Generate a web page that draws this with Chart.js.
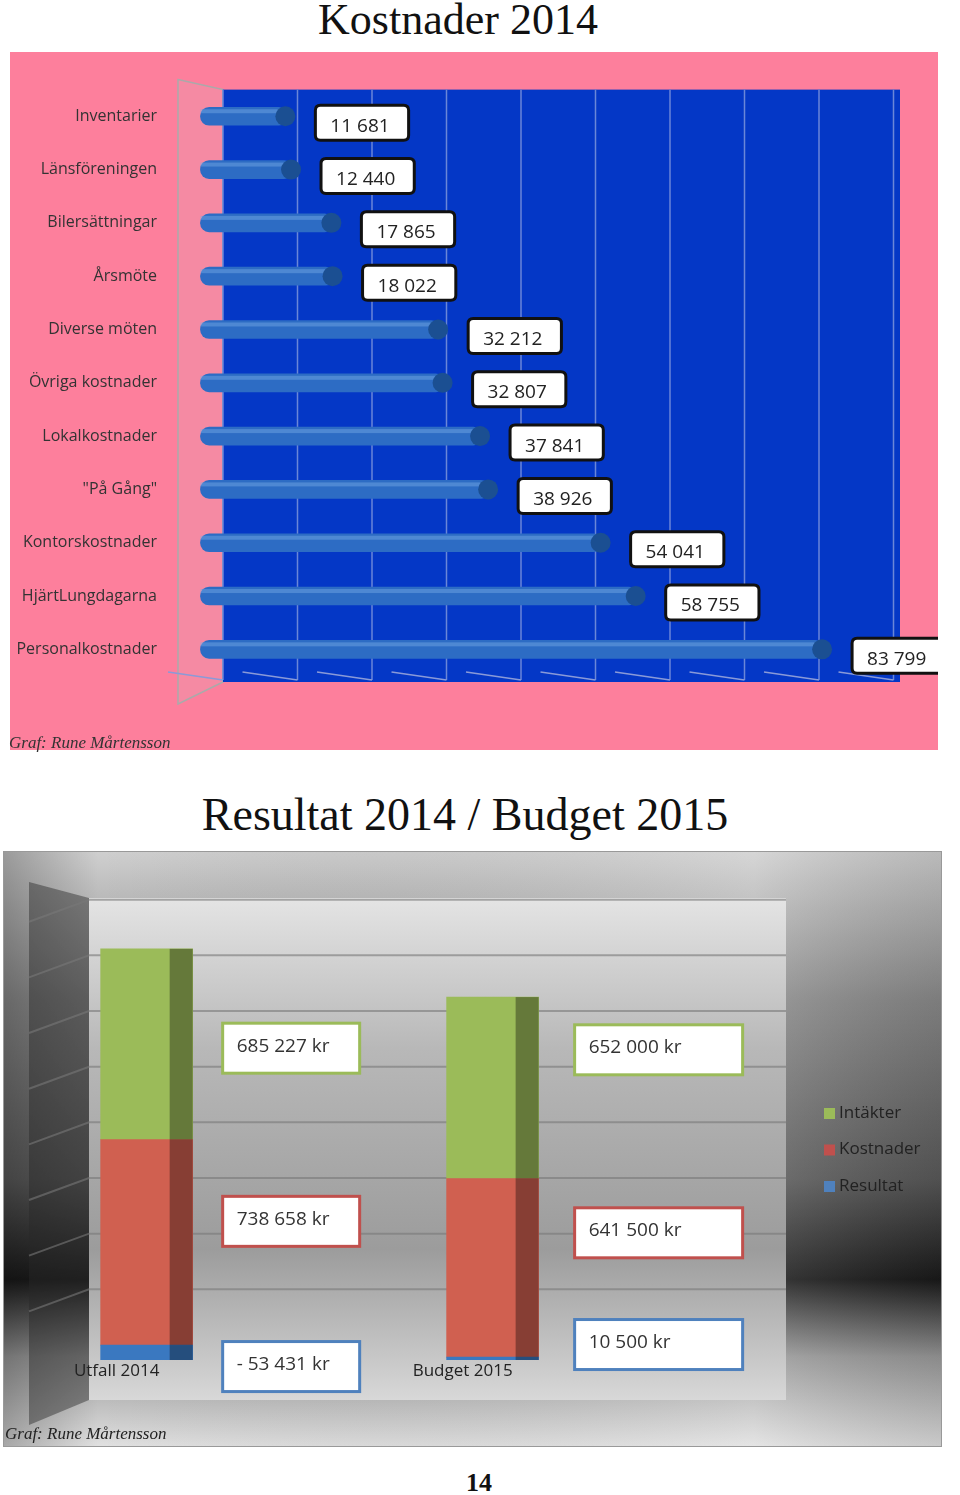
<!DOCTYPE html>
<html><head><meta charset="utf-8">
<script src="https://cdn.jsdelivr.net/npm/chart.js@4"></script>
<style>
body{margin:0;width:960px;height:1495px;background:#fff;position:relative;overflow:hidden}
.t{position:absolute;font-family:"Liberation Serif",serif;color:#111;white-space:nowrap}
canvas{position:absolute}
</style></head><body>
<div class="t" style="left:0;width:916px;text-align:center;top:-6px;font-size:44px">Kostnader 2014</div>
<div id="w1" style="position:absolute;left:10px;top:52px;width:928px;height:698px"><canvas id="c1"></canvas></div>
<div class="t" style="left:9px;top:733px;font-size:17px;font-style:italic;color:#333">Graf: Rune Mårtensson</div>
<div class="t" style="left:0;width:930px;text-align:center;top:788px;font-size:46px">Resultat 2014 / Budget 2015</div>
<div id="w2" style="position:absolute;left:3px;top:851px;width:939px;height:596px;border:1px solid #999;box-sizing:border-box"><canvas id="c2"></canvas></div>
<div class="t" style="left:5px;top:1424px;font-size:17px;font-style:italic;color:#222">Graf: Rune Mårtensson</div>
<div class="t" style="left:0;width:958px;text-align:center;top:1468px;font-size:26px;font-weight:bold">14</div>
<script>
const costCategories=["Inventarier","Länsföreningen","Bilersättningar","Årsmöte","Diverse möten","Övriga kostnader","Lokalkostnader","\"På Gång\"","Kontorskostnader","HjärtLungdagarna","Personalkostnader"];
const costValues=[11681,12440,17865,18022,32212,32807,37841,38926,54041,58755,83799];
const resCategories=["Utfall 2014","Budget 2015"];
const intakter=[685227,652000];
const kostnader=[738658,641500];
const resultat=[-53431,10500];
const fmt=v=>(v<0?"- ":"")+Math.abs(v).toString().replace(/\B(?=(\d{3})+(?!\d))/g," ");
const SANS='"Open Sans",sans-serif';

function rr(ctx,x,y,w,h,r){ctx.beginPath();ctx.moveTo(x+r,y);ctx.lineTo(x+w-r,y);ctx.quadraticCurveTo(x+w,y,x+w,y+r);ctx.lineTo(x+w,y+h-r);ctx.quadraticCurveTo(x+w,y+h,x+w-r,y+h);ctx.lineTo(x+r,y+h);ctx.quadraticCurveTo(x,y+h,x,y+h-r);ctx.lineTo(x,y+r);ctx.quadraticCurveTo(x,y,x+r,y);ctx.closePath();}

const bg1={id:'bg1',beforeDraw(c){const ctx=c.ctx,a=c.chartArea;ctx.save();ctx.fillStyle='#fd7f9c';ctx.fillRect(0,0,c.width,c.height);
 ctx.fillStyle='#f58aa3';ctx.beginPath();ctx.moveTo(a.left-15,a.top-10);ctx.lineTo(a.left+30,a.top);ctx.lineTo(a.left+30,a.bottom+6);ctx.lineTo(a.left-15,a.bottom+28);ctx.closePath();ctx.fill();ctx.strokeStyle='#aaa';ctx.lineWidth=1.5;ctx.stroke();
 ctx.fillStyle='#0437c6';ctx.fillRect(a.left+30,a.top,a.right-a.left-30,a.bottom-a.top+6);
 ctx.strokeStyle='#6a86d8';ctx.lineWidth=1.5;
 for(let i=0;i<=9;i++){const x=a.left+30+i*74.5;ctx.beginPath();ctx.moveTo(x,a.top);ctx.lineTo(x,a.bottom+4);ctx.stroke();
  ctx.strokeStyle='#8a9ad8';ctx.beginPath();ctx.moveTo(x-55,a.bottom-4);ctx.lineTo(x,a.bottom+4);ctx.stroke();ctx.strokeStyle='#6a86d8';}
 ctx.restore();},
 afterDatasetsDraw(c){const ctx=c.ctx;const m=c.getDatasetMeta(0);ctx.save();ctx.font='19px '+SANS;ctx.textBaseline='middle';
 m.data.forEach((b,i)=>{const p=b.getProps(['x','y','height']);
  ctx.fillStyle='rgba(120,170,230,0.45)';ctx.fillRect(p.x-Math.abs(p.x-b.base),p.y-7,Math.abs(p.x-b.base)-6,4);
  ctx.fillStyle='#1b4f92';ctx.beginPath();ctx.ellipse(p.x-2,p.y,10,10,0,0,Math.PI*2);ctx.fill();
  const t=fmt(costValues[i]);const w=ctx.measureText(t).width+34;const bx=p.x+28,by=p.y-11;
  rr(ctx,bx,by,w,35,5);ctx.fillStyle='#fff';ctx.fill();ctx.lineWidth=3;ctx.strokeStyle='#111';ctx.stroke();
  ctx.fillStyle='#222';ctx.fillText(t,bx+15,by+21);});ctx.restore();}};

new Chart(document.getElementById('c1'),{type:'bar',
 data:{labels:costCategories,datasets:[{data:costValues,backgroundColor:'#2d6cc4',
  barThickness:18,borderRadius:9,borderSkipped:false}]},
 options:{responsive:true,maintainAspectRatio:false,animation:false,indexAxis:'y',
  layout:{padding:{top:26,bottom:74,right:38,left:0}},
  plugins:{legend:{display:false},tooltip:{enabled:false}},
  scales:{x:{min:-1000,max:94000,display:false},
   y:{grid:{display:false},border:{display:false},afterFit(s){s.width=183;},ticks:{padding:28,color:'#333',font:{size:16,family:SANS}}}}},
 plugins:[bg1]});

const bg2={id:'bg2',beforeDraw(c){const ctx=c.ctx,a=c.chartArea,W=c.width,H=c.height;ctx.save();
 let g=ctx.createLinearGradient(0,0,0,H);g.addColorStop(0,'#cfcfcf');g.addColorStop(0.25,'#8a8a8a');g.addColorStop(0.55,'#5a5a5a');g.addColorStop(0.72,'#1a1a1a');g.addColorStop(0.85,'#9a9a9a');g.addColorStop(1,'#e0e0e0');
 ctx.fillStyle=g;ctx.fillRect(0,0,W,H);
 let h=ctx.createLinearGradient(0,0,W,0);h.addColorStop(0,'rgba(0,0,0,0.25)');h.addColorStop(0.1,'rgba(0,0,0,0)');h.addColorStop(0.8,'rgba(255,255,255,0.15)');h.addColorStop(1,'rgba(0,0,0,0.1)');ctx.fillStyle=h;ctx.fillRect(0,0,W,H);
 ctx.fillStyle='rgba(40,40,40,0.45)';ctx.beginPath();ctx.moveTo(25,30);ctx.lineTo(a.left,a.top);ctx.lineTo(a.left,a.bottom+40);ctx.lineTo(25,a.bottom+65);ctx.closePath();ctx.fill();
 let p=ctx.createLinearGradient(0,a.top,0,a.bottom+40);p.addColorStop(0,'#e4e4e4');p.addColorStop(0.3,'#b8b8b8');p.addColorStop(0.7,'#9c9c9c');p.addColorStop(1,'#d8d8d8');
 ctx.fillStyle=p;ctx.fillRect(a.left,a.top,a.right-a.left,a.bottom-a.top+40);
 ctx.strokeStyle='rgba(120,120,120,0.6)';ctx.lineWidth=2;
 for(let v=200000;v<1660000;v+=200000){const y=c.scales.y.getPixelForValue(v)-15;ctx.beginPath();ctx.moveTo(25,y+22);ctx.lineTo(a.left,y);ctx.lineTo(a.right,y);ctx.stroke();}
 ctx.restore();},
 afterDatasetsDraw(c){const ctx=c.ctx;ctx.save();
 c.data.datasets.forEach((ds,di)=>{c.getDatasetMeta(di).data.forEach(b=>{const p=b.getProps(['x','y','base','width']);ctx.fillStyle='rgba(0,0,0,0.35)';ctx.fillRect(p.x+p.width/2-23,Math.min(p.y,p.base),23,Math.abs(p.base-p.y));});});
 const ys=c.scales.y;ctx.font='19px '+SANS;ctx.textBaseline='middle';
 const cols=['#9bbb59','#c0504d','#4f81bd'];const vals=[intakter,kostnader,resultat];
 const boxW=[137,168];
 const offs=[[4,-21,14],[-38,-35,-14]];
 [0,1].forEach(i=>{const bx=c.getDatasetMeta(0).data[i];const right=bx.x+bx.width/2;
  let base=0;const order=[2,1,0];const centers={};
  order.forEach(k=>{const v=Math.abs(vals[k][i]);centers[k]=ys.getPixelForValue(base+v/2);base+=v;});
  [0,1,2].forEach(k=>{const cy=centers[k]+offs[i][k];
   const x=right+30+i*6,w=boxW[i],hgt=50;ctx.fillStyle='#fff';ctx.fillRect(x,cy-hgt/2,w,hgt);ctx.lineWidth=3;ctx.strokeStyle=cols[k];ctx.strokeRect(x,cy-hgt/2,w,hgt);
   ctx.fillStyle='#333';ctx.fillText(fmt(vals[k][i])+" kr",x+14,cy-2);});});
 ctx.font='17px '+SANS;ctx.fillStyle='#222';ctx.textAlign='center';
 resCategories.forEach((t,i)=>{const bx=c.getDatasetMeta(0).data[i];ctx.fillText(t,bx.x-30,ys.bottom+11);});
 ctx.textAlign='left';['Intäkter','Kostnader','Resultat'].forEach((t,k)=>{const y=261+k*36.5;ctx.fillStyle=cols[k];ctx.fillRect(820,y-5,11,11);ctx.fillStyle='#222';ctx.fillText(t,835,y);});
 ctx.restore();}};

const barX=[41,587];
new Chart(document.getElementById('c2'),{type:'bar',
 data:{labels:resCategories,datasets:[
  {label:'Resultat',data:resultat.map((v,i)=>({x:barX[i],y:Math.abs(v)})),backgroundColor:'#3a78c0',barThickness:92,stack:'s'},
  {label:'Kostnader',data:kostnader.map((v,i)=>({x:barX[i],y:v})),backgroundColor:'#d06050',barThickness:92,stack:'s'},
  {label:'Intäkter',data:intakter.map((v,i)=>({x:barX[i],y:v})),backgroundColor:'#9bbb59',barThickness:92,stack:'s'}]},
 options:{responsive:true,maintainAspectRatio:false,animation:false,
  layout:{padding:{left:85,right:155,top:46,bottom:86}},
  plugins:{legend:{display:false},tooltip:{enabled:false}},
  scales:{x:{type:'linear',min:0,max:1000,display:false,stacked:true},y:{min:0,max:1660000,display:false,stacked:true}}},
 plugins:[bg2]});
</script></body></html>
